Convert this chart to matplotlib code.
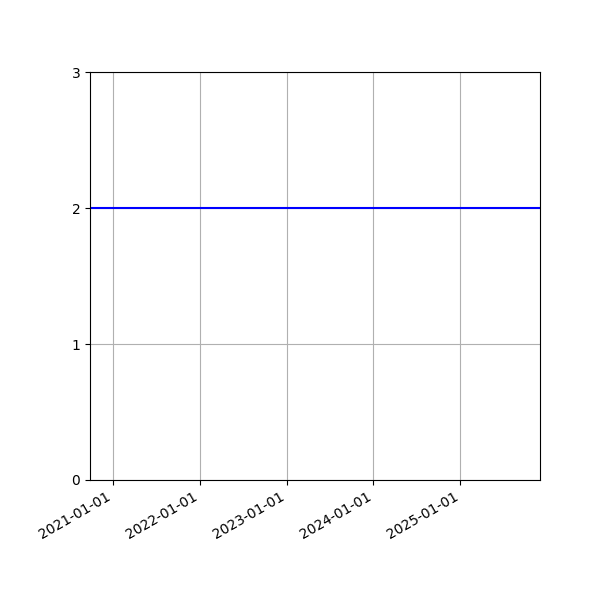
import matplotlib
matplotlib.use("Agg")
import matplotlib.pyplot as plt
import matplotlib.dates as mdates
import numpy as np

dates = np.array(["2020-09-25", "2025-12-02"], dtype="datetime64[D]")
values = [2, 2]
tick_dates = np.array(
    ["2021-01-01", "2022-01-01", "2023-01-01", "2024-01-01", "2025-01-01"],
    dtype="datetime64[D]",
)

fig, ax = plt.subplots(figsize=(6, 6), dpi=100)
ax.plot(dates, values, color="blue")
ax.set_xlim(dates[0], dates[-1])
ax.set_ylim(0, 3)
ax.set_yticks([0, 1, 2, 3])
ax.set_xticks(tick_dates)
ax.xaxis.set_major_formatter(mdates.DateFormatter("%Y-%m-%d"))
ax.grid(True)
fig.autofmt_xdate()
fig.subplots_adjust(left=0.15, right=0.9, top=0.88, bottom=0.2)
fig.savefig("out.png")
